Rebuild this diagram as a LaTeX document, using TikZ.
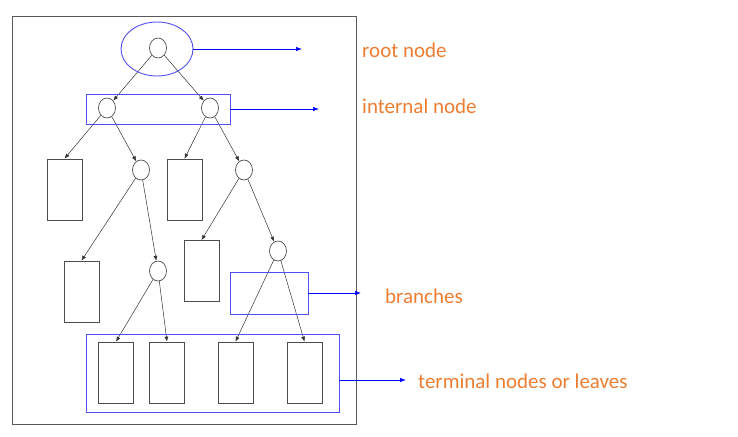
\documentclass[tikz,border=0pt]{standalone}
\usepackage{fontspec}
\setmainfont{Carlito}
\usetikzlibrary{arrows.meta,shapes.geometric}
\definecolor{lblorange}{RGB}{237,125,49}
\definecolor{hlblue}{RGB}{80,80,240}
\begin{document}
\begin{tikzpicture}[x=1pt,y=-1pt,
  circ/.style={ellipse,draw=black!70,line width=0.7pt,minimum width=17pt,minimum height=20pt,inner sep=0pt},
  leaf/.style={rectangle,draw=black!70,line width=0.7pt,minimum width=35pt,minimum height=61pt,inner sep=0pt},
  edge/.style={draw=black!80,line width=0.5pt,-{Latex[length=5pt,width=4pt]}},
  hl/.style={draw=hlblue,line width=0.9pt},
  call/.style={draw=blue,line width=0.7pt,-{Latex[length=6pt,width=4.5pt]}},
  lbl/.style={text=lblorange,font=\fontsize{21}{25}\selectfont,anchor=west,inner sep=0pt}]
\useasboundingbox (0,0) rectangle (738,436);
\draw[draw=black!65,line width=1pt] (12,17) rectangle (356,424);
% nodes
\node[circ] (r) at (158,48) {};
\node[circ] (a) at (107,108) {};
\node[circ] (b) at (210,108) {};
\node[leaf] (l1) at (64.5,189.5) {};
\node[leaf] (l2) at (184.5,189.5) {};
\node[circ] (c) at (141,170) {};
\node[circ] (d) at (244,170) {};
\node[leaf] (l3) at (81.5,291.5) {};
\node[circ] (e) at (158,271) {};
\node[leaf] (l4) at (201.5,271) {};
\node[circ] (f) at (278,251) {};
\node[leaf] (t1) at (116,372.5) {};
\node[leaf] (t2) at (167,372.5) {};
\node[leaf] (t3) at (235.5,372.5) {};
\node[leaf] (t4) at (304.5,372.5) {};
% edges
\draw[edge] (r) -- (a);
\draw[edge] (r) -- (b);
\draw[edge] (a) -- (l1.north);
\draw[edge] (a) -- (c);
\draw[edge] (b) -- (l2.north);
\draw[edge] (b) -- (d);
\draw[edge] (c) -- (l3.north);
\draw[edge] (c) -- (e);
\draw[edge] (d) -- (l4.north);
\draw[edge] (d) -- (f);
\draw[edge] (e) -- (t1.north);
\draw[edge] (e) -- (t2.north);
\draw[edge] (f) -- (t3.north);
\draw[edge] (f) -- (t4.north);
% highlights
\node[ellipse,hl,minimum width=72pt,minimum height=54pt,inner sep=0pt] (hr) at (157,49) {};
\node[rectangle,hl,minimum width=144pt,minimum height=30pt,inner sep=0pt] (hi) at (158,109) {};
\node[rectangle,hl,minimum width=78pt,minimum height=42pt,inner sep=0pt] (hb) at (269,293) {};
\node[rectangle,hl,minimum width=253pt,minimum height=78pt,inner sep=0pt] (ht) at (212.5,373) {};
\coordinate (e1) at (302,49);
\coordinate (e2) at (319,109);
\coordinate (e3) at (361,293);
\coordinate (e4) at (406,380);
\draw[call] (hr.east) -- (e1);
\draw[call] (hi.east) -- (e2);
\draw[call] (hb.east) -- (e3);
\draw[call] (ht.east|-e4) -- (e4);
\node[lbl] (t-root) at (362,50) {root node};
\node[lbl] (t-int) at (362,106) {internal node};
\node[lbl] (t-br) at (385,296) {branches};
\node[lbl] (t-term) at (418,381) {terminal nodes or leaves};
\end{tikzpicture}
\end{document}
